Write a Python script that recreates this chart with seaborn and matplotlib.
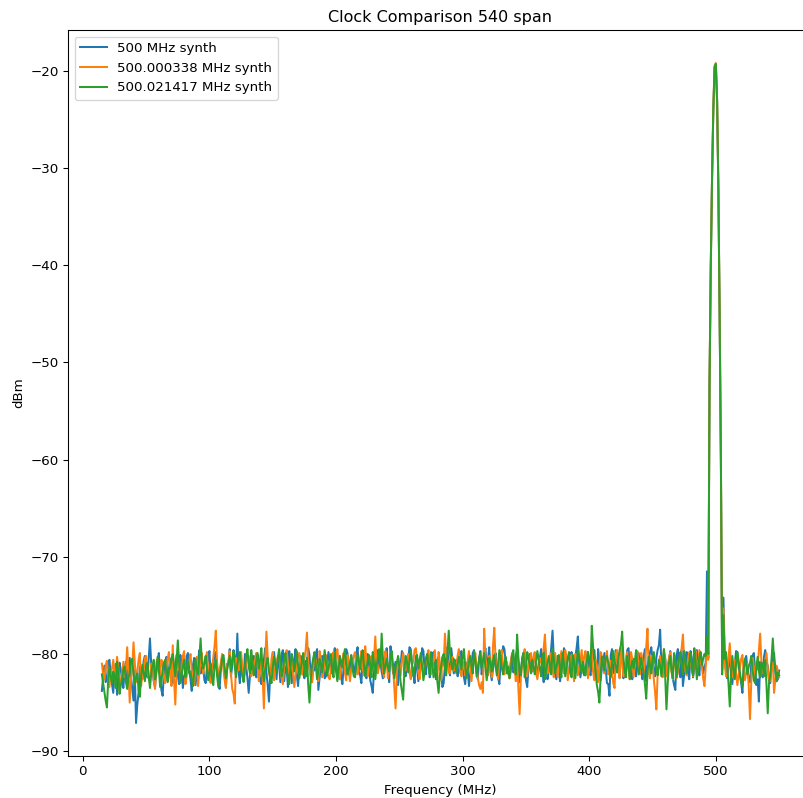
import numpy as np
import pandas as pd
import matplotlib
matplotlib.use('Agg')
import matplotlib.pyplot as plt
import seaborn as sns

'''
Spectrum analyser sweep of three 500 MHz clock sources,
540 MHz span. Values read off the reference trace.
'''

# sweep grid, 1 MHz per point
freq_mhz = np.arange(15, 551)

labels = ['500 MHz synth', '500.000338 MHz synth', '500.021417 MHz synth']
colors = ['#1f77b4', '#ff7f0e', '#2ca02c']

# noise floor 15..491 MHz, carrier 492..507 MHz, noise 508..550 MHz
blue_floor = [
    -83.8, -82.4, -81.2, -82.9, -82.5, -80.9, -80.6, -82.2, -83.1, -84.0,
    -81.9, -81.0, -84.2, -82.6, -80.9, -81.7, -82.7, -83.5, -81.5, -80.8,
    -82.9, -81.6, -80.4, -82.3, -83.6, -84.8, -81.7, -87.1, -85.2, -84.0,
    -81.3, -82.1, -82.6, -80.7, -80.2, -81.9, -82.4, -80.5, -78.4, -81.1,
    -81.6, -82.8, -83.4, -81.9, -80.8, -79.9, -82.1, -83.7, -84.3, -82.0,
    -81.0, -80.3, -82.8, -81.5, -80.5, -82.6, -83.0, -81.2, -81.4, -80.1,
    -82.2, -83.1, -80.1, -81.4, -83.5, -82.3, -81.8, -80.2, -79.9, -81.6,
    -82.6, -83.8, -81.1, -80.4, -83.2, -81.9, -80.7, -79.6, -82.0, -81.3,
    -81.3, -82.7, -83.0, -81.4, -80.4, -79.7, -82.5, -81.9, -81.2, -80.1,
    -79.8, -81.5, -82.9, -83.6, -81.6, -80.2, -80.3, -82.1, -83.4, -81.0,
    -81.0, -79.5, -82.3, -81.1, -79.6, -80.4, -81.8, -77.9, -81.8, -83.0,
    -80.5, -81.7, -82.7, -80.0, -81.2, -82.5, -84.0, -82.2, -81.5, -80.3,
    -80.2, -81.6, -82.4, -80.1, -81.0, -82.7, -83.1, -81.5, -80.6, -79.4,
    -81.9, -83.2, -84.9, -82.0, -81.4, -80.3, -79.8, -81.1, -82.6, -80.4,
    -81.1, -82.9, -80.0, -79.6, -82.8, -81.3, -81.5, -83.4, -79.7, -80.9,
    -83.0, -81.6, -80.9, -79.5, -82.2, -83.3, -81.3, -80.2, -80.4, -82.0,
    -82.5, -80.7, -81.0, -79.4, -80.1, -82.3, -82.9, -81.1, -81.7, -80.0,
    -79.5, -83.7, -82.4, -81.2, -80.2, -80.6, -82.5, -82.3, -80.9, -79.8,
    -80.8, -82.0, -81.9, -80.2, -79.4, -81.7, -82.6, -80.9, -80.2, -82.4,
    -83.1, -81.3, -81.0, -79.5, -79.9, -81.8, -82.4, -80.3, -80.7, -81.9,
    -81.5, -80.0, -79.3, -81.6, -82.2, -83.0, -80.6, -79.8, -81.8, -82.5,
    -80.0, -81.1, -82.7, -83.3, -84.0, -81.7, -81.3, -80.2, -79.6, -81.4,
    -80.9, -81.8, -82.5, -80.4, -80.3, -79.4, -81.6, -82.9, -79.2, -80.5,
    -82.0, -81.4, -80.8, -82.3, -83.2, -81.0, -81.1, -79.7, -80.0, -82.1,
    -82.3, -80.9, -80.6, -79.3, -79.5, -81.2, -81.9, -83.0, -80.2, -81.5,
    -82.8, -80.6, -81.0, -79.4, -79.7, -81.8, -82.1, -80.3, -80.5, -82.4,
    -81.4, -80.1, -79.8, -82.0, -82.6, -80.9, -80.3, -81.6, -81.7, -83.4,
    -83.0, -81.2, -80.1, -79.3, -81.5, -82.2, -79.4, -80.7, -82.0, -81.1,
    -80.6, -82.3, -81.8, -80.2, -79.7, -81.5, -82.4, -83.1, -80.9, -81.7,
    -83.3, -82.0, -81.2, -79.9, -79.6, -80.8, -81.9, -82.6, -80.4, -79.7,
    -82.1, -81.2, -80.0, -79.4, -81.4, -80.6, -79.3, -81.9, -82.7, -81.5,
    -80.8, -79.9, -81.6, -82.4, -83.1, -80.7, -80.2, -79.2, -79.5, -81.0,
    -81.3, -82.0, -82.4, -80.8, -80.1, -81.9, -81.7, -80.2, -79.6, -81.5,
    -82.9, -81.8, -80.5, -79.9, -81.2, -82.7, -83.4, -81.4, -80.0, -80.9,
    -81.8, -80.6, -79.9, -81.3, -82.3, -81.0, -80.4, -79.5, -81.1, -82.9,
    -79.2, -80.6, -82.6, -81.8, -80.7, -79.3, -77.6, -80.4, -81.5, -82.6,
    -80.2, -81.7, -82.8, -80.5, -81.0, -79.4, -79.7, -81.3, -82.1, -81.9,
    -80.5, -79.8, -81.6, -82.5, -80.3, -79.4, -78.2, -80.8, -82.4, -81.5,
    -80.6, -82.2, -81.9, -80.5, -79.8, -81.6, -82.2, -80.9, -80.4, -79.6,
    -81.3, -82.5, -79.5, -80.8, -82.7, -81.4, -80.9, -79.9, -81.4, -83.0,
    -83.1, -84.3, -80.1, -79.5, -82.0, -81.6, -79.6, -80.7, -81.7, -82.4,
    -80.3, -79.4, -82.5, -81.2, -80.8, -79.6, -79.4, -81.1, -81.9, -82.6,
    -80.5, -81.7, -82.3, -80.0, -79.9, -81.2, -81.5, -82.6, -80.2, -79.5,
    -82.8, -81.4, -80.7, -79.8, -79.3, -80.6, -81.6, -82.3, -80.4, -79.6,
    -79.1, -77.5, -81.2, -82.1, -79.8, -80.4, -82.0, -81.3, -80.6, -79.7,
    -81.4, -82.5, -83.2, -83.7, -80.1, -79.5, -81.8, -82.4, -79.6, -83.3,
    -82.1, -80.5, -79.8, -81.9, -82.6, -79.7, -80.4, -82.4, -81.5, -80.8,
    -79.6, -81.3, -82.2, -79.9, -80.7, -82.0, -81.4,
]
blue_carrier = [
    -80.9, -71.5, -80.4, -52.5, -40.3, -31.2, -24.1, -19.7,
    -19.4, -23.2, -32.3, -45.2, -60.3, -81.6, -74.2, -80.3,
]
blue_upper = [
    -81.7, -82.5, -81.0, -80.3, -82.2, -83.1, -81.6, -81.0, -79.7, -79.8,
    -81.4, -82.2, -83.0, -84.0, -81.3, -80.6, -80.2, -81.7, -82.5, -82.9,
    -81.1, -80.2, -79.9, -81.5, -83.2, -82.6, -84.9, -80.8, -81.4, -82.4,
    -80.3, -79.6, -80.9, -81.2, -82.7, -83.0, -81.0, -80.5, -79.9, -81.9,
    -82.8, -82.6, -81.7,
]

orange_floor = [
    -81.0, -82.1, -82.6, -81.2, -80.7, -82.5, -83.4, -82.0, -81.5, -80.6,
    -82.0, -83.1, -80.3, -81.4, -83.8, -82.7, -81.9, -80.8, -82.4, -81.6,
    -79.3, -81.8, -85.0, -82.6, -81.4, -78.8, -80.9, -82.9, -81.7, -80.6,
    -79.9, -83.3, -82.1, -81.8, -80.4, -80.2, -81.9, -82.5, -83.0, -81.0,
    -81.3, -82.7, -83.6, -80.9, -80.5, -81.8, -82.2, -80.6, -81.0, -82.4,
    -83.0, -81.5, -80.4, -79.8, -82.1, -83.3, -79.1, -82.6, -85.2, -81.7,
    -81.6, -80.5, -82.8, -81.9, -80.2, -79.7, -83.1, -82.3, -81.4, -80.8,
    -80.0, -81.7, -82.5, -83.2, -81.1, -80.3, -83.3, -81.9, -80.7, -79.9,
    -82.0, -81.1, -80.6, -79.8, -81.8, -82.6, -83.0, -81.5, -80.3, -79.2,
    -77.6, -80.8, -82.4, -81.6, -80.9, -80.0, -81.5, -82.7, -83.5, -81.2,
    -80.8, -79.7, -82.1, -83.6, -84.1, -85.1, -80.4, -81.2, -81.7, -80.3,
    -79.8, -81.5, -82.6, -81.9, -81.0, -80.1, -80.2, -81.6, -82.3, -81.8,
    -81.4, -80.6, -79.9, -81.2, -82.8, -81.7, -80.6, -82.4, -85.6, -81.0,
    -77.7, -80.3, -81.9, -82.5, -80.5, -79.8, -82.7, -81.6, -81.1, -80.2,
    -80.0, -81.4, -82.5, -83.1, -81.3, -80.2, -79.6, -81.0, -82.2, -81.5,
    -80.8, -82.0, -83.4, -82.1, -81.0, -80.0, -79.9, -81.3, -82.1, -80.7,
    -80.4, -79.6, -77.8, -80.9, -81.6, -82.3, -82.9, -81.4, -80.2, -80.6,
    -81.5, -82.8, -79.7, -80.5, -82.4, -81.9, -80.9, -80.1, -81.8, -82.4,
    -82.6, -81.5, -80.3, -79.8, -81.2, -80.1, -79.5, -80.9, -82.6, -81.4,
    -80.7, -79.9, -81.9, -82.7, -80.1, -81.2, -82.8, -81.5, -81.0, -80.2,
    -79.8, -80.9, -82.1, -81.6, -80.5, -79.7, -81.4, -82.2, -79.2, -80.6,
    -82.3, -81.5, -80.9, -80.2, -81.7, -80.4, -78.2, -80.9, -82.0, -81.3,
    -80.6, -79.9, -81.8, -82.4, -79.7, -80.8, -82.5, -81.3, -80.2, -80.9,
    -81.3, -83.4, -85.6, -82.1, -80.4, -81.0, -82.2, -80.8, -79.9, -81.5,
    -81.7, -80.5, -80.0, -81.9, -82.6, -81.1, -80.8, -79.6, -79.4, -80.7,
    -81.9, -82.6, -80.5, -81.3, -82.3, -81.4, -81.0, -80.1, -79.6, -81.2,
    -82.1, -81.0, -80.7, -79.6, -81.4, -82.5, -79.8, -80.9, -82.7, -80.3,
    -81.2, -77.9, -80.3, -80.6, -81.9, -82.0, -80.8, -80.3, -81.7, -80.9,
    -81.6, -80.2, -79.5, -81.7, -82.3, -80.8, -80.9, -82.2, -81.8, -80.6,
    -79.7, -81.5, -82.8, -81.2, -80.4, -79.9, -81.3, -82.5, -83.2, -83.6,
    -82.9, -84.0, -77.4, -80.3, -81.5, -82.2, -80.2, -80.8, -82.4, -79.1,
    -77.3, -80.6, -81.8, -82.6, -80.5, -79.8, -79.6, -81.4, -82.1, -80.7,
    -80.8, -81.7, -82.5, -80.9, -79.9, -80.4, -81.4, -82.8, -80.3, -83.5,
    -86.2, -82.4, -81.0, -80.2, -79.5, -81.6, -82.3, -81.1, -80.6, -79.9,
    -81.7, -80.3, -79.8, -81.9, -82.6, -81.5, -80.4, -80.8, -81.2, -79.4,
    -78.0, -80.7, -82.0, -81.6, -80.7, -79.9, -81.5, -82.4, -79.9, -81.0,
    -82.4, -81.3, -80.5, -79.7, -81.3, -82.0, -79.6, -80.4, -82.7, -81.8,
    -80.9, -80.1, -81.6, -82.8, -80.0, -80.7, -82.2, -81.5, -80.8, -79.6,
    -81.4, -80.3, -79.7, -81.0, -82.5, -81.6, -80.3, -79.5, -81.8, -82.7,
    -80.6, -81.2, -82.9, -81.4, -79.8, -80.2, -81.2, -82.0, -80.4, -79.7,
    -82.1, -81.2, -80.7, -81.9, -83.0, -83.5, -80.0, -79.6, -81.6, -82.5,
    -79.4, -80.3, -82.3, -81.7, -80.9, -79.8, -81.5, -82.6, -79.8, -80.5,
    -82.4, -81.1, -80.6, -79.7, -81.3, -82.1, -79.9, -80.6, -82.0, -80.9,
    -79.3, -77.4, -81.8, -82.5, -80.2, -81.0, -82.6, -83.9, -85.7, -82.2,
    -80.9, -80.2, -81.7, -82.4, -79.5, -80.6, -82.3, -81.2, -80.4, -79.8,
    -81.9, -82.6, -80.0, -81.1, -82.5, -81.8, -81.1, -80.2, -79.4, -78.0,
    -80.6, -81.8, -82.2, -80.5, -79.8, -80.9, -81.5, -82.3, -80.3, -79.7,
    -82.0, -81.4, -79.6, -80.8, -81.4, -82.5, -83.3,
]
orange_carrier = [
    -81.3, -79.0, -80.6, -52.0, -40.0, -31.0, -23.9, -19.5,
    -19.2, -23.0, -32.0, -45.0, -60.0, -81.0, -75.3, -80.8,
]
orange_upper = [
    -82.3, -81.9, -80.4, -78.9, -81.2, -82.4, -81.5, -80.6, -82.0, -83.2,
    -82.1, -81.4, -80.5, -80.1, -81.8, -82.7, -81.9, -81.0, -83.4, -86.7,
    -82.8, -80.4, -81.3, -82.3, -80.9, -81.6, -79.6, -77.9, -80.8, -82.0,
    -81.5, -80.7, -79.9, -81.5, -82.6, -82.8, -81.2, -80.9, -84.0, -82.7,
    -81.2, -81.8, -82.4,
]

green_floor = [
    -82.1, -83.0, -83.9, -84.8, -85.5, -82.7, -81.4, -82.3, -83.0, -81.8,
    -82.2, -83.5, -80.8, -81.9, -84.1, -83.2, -82.5, -81.6, -81.3, -82.9,
    -83.6, -82.5, -81.9, -80.7, -80.5, -82.1, -83.2, -82.4, -82.0, -83.7,
    -84.4, -82.3, -81.1, -81.8, -82.8, -81.5, -80.9, -82.2, -83.5, -82.0,
    -81.2, -80.6, -82.6, -81.9, -80.3, -81.5, -83.4, -82.8, -81.7, -80.9,
    -80.6, -82.1, -82.9, -81.6, -81.4, -80.5, -80.0, -81.2, -82.3, -80.8,
    -78.6, -80.9, -83.0, -82.2, -81.3, -80.6, -82.4, -81.5, -80.7, -82.0,
    -81.8, -82.6, -83.3, -81.9, -80.5, -81.7, -82.1, -80.4, -78.4, -80.9,
    -81.5, -80.9, -80.2, -81.6, -82.7, -81.8, -81.0, -82.4, -83.2, -81.3,
    -80.6, -82.2, -83.4, -81.9, -81.7, -80.5, -80.1, -81.4, -82.5, -81.6,
    -80.9, -80.2, -81.8, -80.6, -79.7, -81.3, -82.4, -81.0, -80.5, -79.8,
    -81.6, -82.3, -82.9, -81.4, -80.2, -79.5, -81.3, -82.0, -79.6, -80.8,
    -82.2, -81.5, -80.7, -79.9, -81.5, -80.6, -79.4, -81.7, -82.8, -81.6,
    -80.9, -80.4, -81.7, -82.5, -83.0, -81.4, -80.3, -81.0, -81.9, -80.5,
    -79.5, -80.8, -82.3, -81.7, -80.6, -79.9, -81.4, -82.4, -83.1, -81.3,
    -80.0, -80.6, -81.8, -80.9, -79.7, -81.2, -82.5, -81.6, -80.8, -79.9,
    -81.6, -82.3, -80.4, -83.2, -85.0, -82.6, -81.2, -80.4, -79.8, -81.1,
    -82.6, -81.7, -80.5, -80.9, -81.9, -80.7, -79.6, -80.8, -82.2, -81.4,
    -80.6, -80.0, -81.7, -82.4, -79.9, -81.2, -82.8, -81.5, -80.3, -80.7,
    -81.4, -80.2, -79.5, -81.0, -82.1, -81.6, -80.8, -80.1, -81.5, -82.3,
    -82.4, -81.1, -80.1, -80.7, -81.6, -80.3, -79.6, -81.2, -82.3, -81.5,
    -80.7, -80.1, -81.2, -82.4, -79.8, -81.0, -82.6, -81.3, -80.4, -79.5,
    -81.3, -77.9, -80.4, -82.0, -81.2, -80.5, -81.4, -81.8, -80.4, -79.7,
    -81.1, -82.5, -81.3, -80.9, -80.2, -81.4, -82.9, -83.8, -84.7, -81.6,
    -80.2, -80.8, -81.9, -80.7, -79.6, -81.1, -82.3, -81.4, -80.8, -80.1,
    -81.5, -80.6, -79.9, -81.3, -82.7, -81.8, -80.4, -80.0, -81.2, -82.1,
    -79.8, -81.2, -82.4, -81.5, -80.6, -82.8, -84.0, -82.2, -81.3, -80.4,
    -80.0, -81.5, -82.2, -79.8, -77.6, -79.9, -81.0, -81.6, -80.5, -80.9,
    -82.0, -81.1, -80.3, -80.8, -81.6, -80.4, -79.5, -81.2, -82.5, -81.7,
    -80.8, -80.2, -81.2, -82.0, -79.7, -80.6, -82.3, -81.3, -80.6, -79.9,
    -81.4, -80.7, -79.9, -81.4, -82.7, -81.5, -80.4, -80.9, -81.8, -80.7,
    -80.1, -81.2, -82.2, -81.0, -79.6, -80.5, -81.5, -82.1, -80.9, -80.3,
    -82.0, -81.3, -82.5, -81.8, -80.2, -79.6, -81.3, -82.1, -78.0, -80.3,
    -81.7, -82.2, -80.5, -79.9, -82.4, -81.5, -79.8, -80.4, -81.1, -82.0,
    -80.6, -81.4, -82.1, -80.8, -79.7, -80.5, -81.5, -82.3, -80.3, -79.9,
    -82.6, -81.6, -80.9, -80.2, -81.2, -82.1, -79.5, -80.4, -82.0, -81.3,
    -80.7, -80.1, -81.6, -82.4, -79.9, -81.0, -82.3, -81.4, -80.4, -79.8,
    -81.8, -82.4, -80.1, -80.7, -82.5, -81.2, -79.6, -80.3, -81.3, -82.0,
    -80.8, -81.6, -82.2, -80.9, -79.8, -80.6, -81.4, -77.1, -79.2, -80.6,
    -81.9, -83.2, -83.9, -85.0, -82.4, -80.3, -81.1, -81.7, -80.4, -80.2,
    -80.9, -81.5, -82.4, -81.0, -79.7, -80.8, -81.2, -81.9, -80.5, -79.6,
    -79.1, -77.7, -80.4, -81.8, -82.4, -80.2, -81.0, -82.6, -81.3, -80.7,
    -81.5, -80.8, -79.6, -81.2, -82.1, -81.4, -80.4, -81.3, -81.9, -83.1,
    -84.6, -82.0, -80.3, -81.2, -82.0, -80.6, -79.8, -80.9, -81.4, -82.2,
    -80.6, -81.2, -82.3, -80.9, -79.5, -82.4, -85.7, -83.0, -80.9, -80.2,
    -81.7, -82.5, -79.9, -80.6, -82.4, -81.3, -80.5, -79.8, -81.2, -82.1,
    -79.7, -80.6, -82.0, -81.4, -80.8, -79.9, -81.5, -82.2, -79.4, -80.7,
    -82.6, -81.5, -80.3, -79.8, -81.1, -80.5, -80.0,
]
green_carrier = [
    -80.2, -78.2, -80.0, -52.3, -40.1, -31.1, -24.0, -19.6,
    -19.3, -23.1, -32.1, -45.1, -60.1, -82.1, -76.0, -80.5,
]
green_upper = [
    -79.8, -81.4, -83.0, -85.4, -82.1, -80.2, -81.5, -82.6, -81.0, -79.8,
    -80.7, -81.9, -82.8, -83.3, -81.6, -80.5, -81.2, -82.1, -81.3, -80.9,
    -80.2, -81.6, -82.7, -83.0, -81.4, -80.3, -81.8, -82.4, -80.9, -81.0,
    -82.3, -80.6, -83.2, -86.1, -83.0, -82.2, -80.5, -78.4, -80.6, -81.5,
    -82.8, -81.9, -82.2,
]


def build_trace(floor, carrier, upper):
    '''
    join the three pieces of one sweep into a single dBm array
    '''
    return np.array(floor + carrier + upper)


def plot_clocks(traces):
    '''
    draw the three sweeps on one axes
    '''
    dpi = 96
    fig = plt.figure(figsize=(803 / dpi, 798 / dpi), dpi=dpi)
    ax = fig.add_axes([68 / 803, 42 / 798, 745 / 803, 726 / 798])
    for trace, label, color in zip(traces, labels, colors):
        df = pd.DataFrame({'freq': freq_mhz, 'dBm': trace})
        sns.lineplot(data=df, x='freq', y='dBm', ax=ax, color=color,
                     label=label, linewidth=1.5, estimator=None)
    ax.legend(loc='upper left')
    ax.set_title('Clock Comparison 540 span')
    ax.set_xlabel('Frequency (MHz)')
    ax.set_ylabel('dBm')
    ax.set_yticks([-20, -30, -40, -50, -60, -70, -80, -90])
    fig.savefig('out.png', dpi=dpi)


def main():
    traces = [build_trace(blue_floor, blue_carrier, blue_upper),
              build_trace(orange_floor, orange_carrier, orange_upper),
              build_trace(green_floor, green_carrier, green_upper)]
    plot_clocks(traces)


if __name__ == '__main__':
    main()
